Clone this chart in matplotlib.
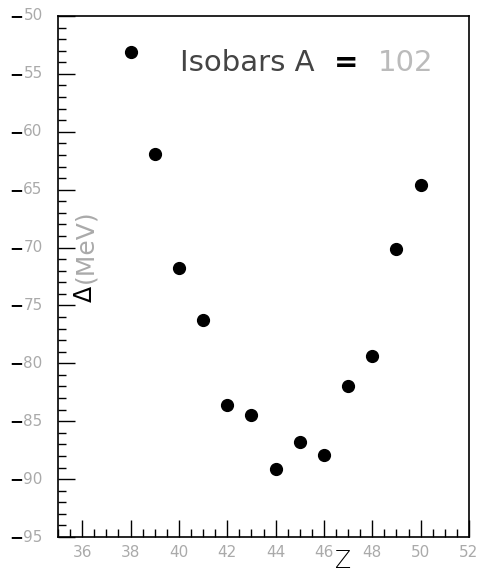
import numpy as np
import matplotlib.pyplot as plt
from matplotlib.ticker import MultipleLocator

# mass excess of A=102 isobars
Z = [38, 39, 40, 41, 42, 43, 44, 45, 46, 47, 48, 49, 50]
delta = [-53.1, -61.9, -71.8, -76.3, -83.6, -84.5, -89.1, -86.8, -87.9, -82.0, -79.4, -70.1, -64.6]

xticks = [36, 38, 40, 42, 44, 46, 48, 50, 52]
yticks = [-95, -90, -85, -80, -75, -70, -65, -60, -55, -50]

grey = '#aaaaaa'
plt.rcParams['font.family'] = ['DejaVu Sans']

fig = plt.figure(figsize=(4.83, 5.74), dpi=100)
ax = fig.add_axes([58/483, 1 - 537/574, (469-58)/483, (537-16)/574])

ax.plot(Z, delta, 'o', color='black', markersize=8.5, linestyle='none')

ax.set_xlim(35, 52)
ax.set_ylim(-95, -50)
ax.xaxis.set_major_locator(MultipleLocator(2))
ax.xaxis.set_minor_locator(MultipleLocator(0.5))
ax.yaxis.set_major_locator(MultipleLocator(5))
ax.yaxis.set_minor_locator(MultipleLocator(1))
ax.tick_params(which='both', direction='in', top=False, right=False, color='black', width=1)
ax.tick_params(which='major', length=12)
ax.tick_params(which='minor', length=6)
ax.tick_params(axis='x', labelsize=11, labelcolor=grey, pad=6)
ax.tick_params(axis='y', labelleft=False)
for s in ax.spines.values():
    s.set_linewidth(1.2)

ax.set_xticks(xticks)
ax.set_xticklabels([str(t) for t in xticks])

# y labels: black minus, grey digits
for v in yticks:
    ax.annotate(str(abs(v)), xy=(0, v), xycoords=('axes fraction', 'data'),
                xytext=(-11, 0), textcoords='offset points',
                ha='right', va='center', fontsize=11, color=grey)
    ax.annotate('\u2212', xy=(0, v), xycoords=('axes fraction', 'data'),
                xytext=(-25, 0), textcoords='offset points',
                ha='right', va='center', fontsize=12, color='black', fontweight='bold')

# axis titles
fig.text(343/483, 1 - 561/574, 'Z', fontsize=17, fontweight='light',
         ha='center', va='center', color='black')
ax.text(0.066, 0.487, '(MeV)', transform=ax.transAxes, rotation=90,
        fontsize=18, ha='center', va='bottom', color=grey)
ax.text(0.066, 0.482, '\u0394', transform=ax.transAxes, rotation=90,
        fontsize=17, ha='center', va='top', color='black')

# title
ax.text(0.297, 0.91, 'Isobars A', transform=ax.transAxes, fontsize=21,
        ha='left', va='center', color='#444444')
ax.text(0.672, 0.91, '=', transform=ax.transAxes, fontsize=21,
        ha='left', va='center', color='black', fontweight='bold')
ax.text(0.779, 0.91, '102', transform=ax.transAxes, fontsize=21,
        ha='left', va='center', color='#bbbbbb')

fig.savefig('out.png', dpi=100)
